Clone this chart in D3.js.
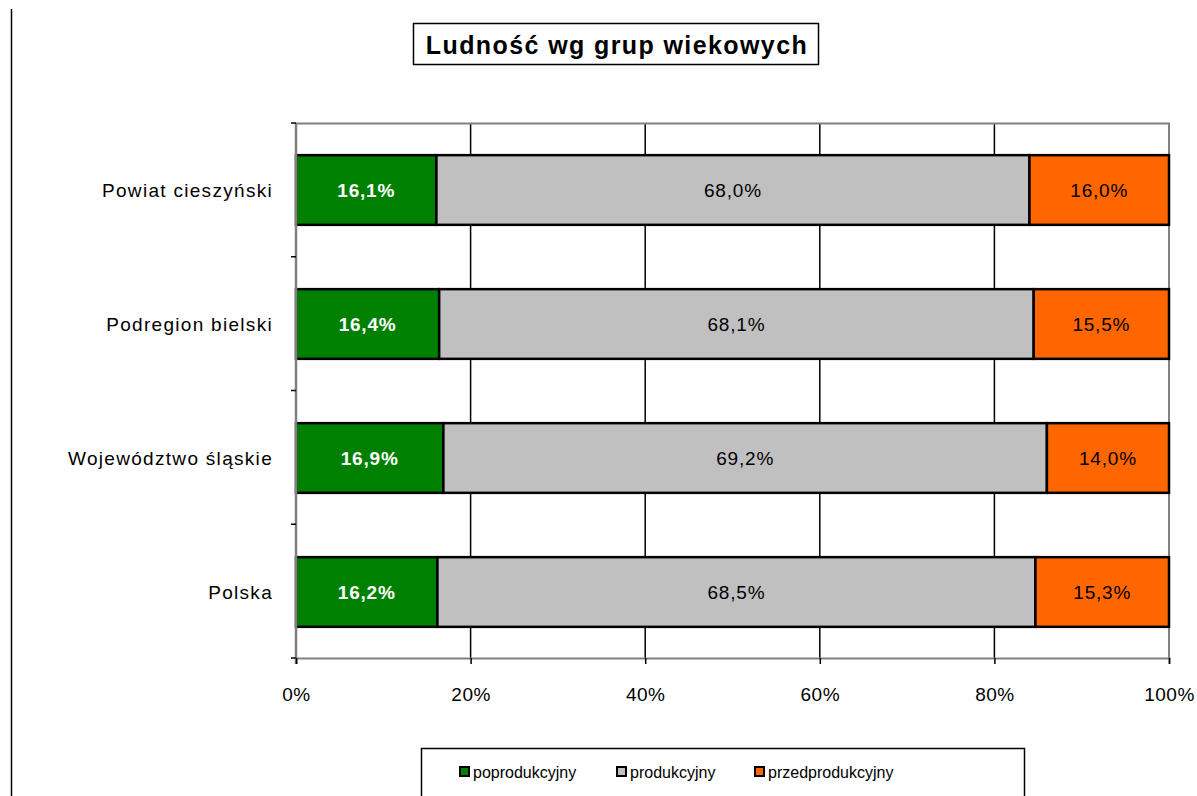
<!DOCTYPE html>
<html>
<head>
<meta charset="utf-8">
<script src="https://cdn.jsdelivr.net/npm/d3@7"></script>
<style>
  body { margin: 0; background: #fff; }
  svg { display: block; font-family: "Liberation Sans", Arial, sans-serif; }
</style>
</head>
<body>
<div id="chart"></div>
<script>
// --- Data ---
const categories = ["Powiat cieszyński", "Podregion bielski", "Województwo śląskie", "Polska"];
const seriesNames = ["poprodukcyjny", "produkcyjny", "przedprodukcyjny"];
const seriesColors = ["#008000", "#c0c0c0", "#ff6600"];
const labelColors = ["#ffffff", "#000000", "#000000"];
const poprodukcyjny = [16.1, 16.4, 16.9, 16.2];
const produkcyjny = [68.0, 68.1, 69.2, 68.5];
const przedprodukcyjny = [16.0, 15.5, 14.0, 15.3];
const xTicks = [0, 20, 40, 60, 80, 100];

const width = 1197;
const height = 796;
const margin = { top: 123, right: 28, bottom: 138, left: 296 };

const svg = d3
  .select("#chart")
  .append("svg")
  .attr("width", width)
  .attr("height", height);

// outer left edge line
svg.append("line")
  .attr("x1", 11.5).attr("x2", 11.5)
  .attr("y1", 9).attr("y2", height)
  .attr("stroke", "#000").attr("stroke-width", 1.5);

// --- Title ---
svg.append("rect")
  .attr("x", 413.5).attr("y", 23.5)
  .attr("width", 405).attr("height", 41)
  .attr("fill", "#fff").attr("stroke", "#000").attr("stroke-width", 1.5);
svg.append("text")
  .attr("x", 617).attr("y", 54)
  .attr("text-anchor", "middle")
  .attr("font-size", 25).attr("font-weight", "bold")
  .attr("letter-spacing", 1.4)
  .text("Ludność wg grup wiekowych");

// --- Scales ---
const x = d3.scaleLinear().domain([0, 100]).range([margin.left, 1169]);
const y = d3.scaleBand()
  .domain(categories)
  .range([margin.top, height - margin.bottom + 1])
  .paddingInner(0.48)
  .paddingOuter(0.24);

const plotTop = margin.top;
const plotBottom = height - margin.bottom;

// gridlines
svg.append("g")
  .selectAll("line")
  .data(xTicks.slice(1, -1))
  .join("line")
  .attr("x1", (d) => x(d)).attr("x2", (d) => x(d))
  .attr("y1", plotTop).attr("y2", plotBottom)
  .attr("stroke", "#000").attr("stroke-width", 1.5);

// plot border (top/right gray)
svg.append("path")
  .attr("d", `M${x(0)},${plotTop + 0.5}H${x(100)}V${plotBottom}`)
  .attr("fill", "none").attr("stroke", "#808080").attr("stroke-width", 2);

// --- Stacked bars ---
const table = categories.map((c, i) => ({
  cat: c,
  poprodukcyjny: poprodukcyjny[i],
  produkcyjny: produkcyjny[i],
  przedprodukcyjny: przedprodukcyjny[i],
}));
const stack = d3.stack().keys(seriesNames)(table);
// normalise to 100% since rounded shares do not always sum to 100
const totals = table.map((d) => d.poprodukcyjny + d.produkcyjny + d.przedprodukcyjny);

const layers = svg.append("g")
  .selectAll("g")
  .data(stack)
  .join("g");

layers.selectAll("rect")
  .data((s) => s.map((d, i) => ({ s, d, i })))
  .join("rect")
  .attr("x", (o) => x((o.d[0] / totals[o.i]) * 100))
  .attr("width", (o) => x((o.d[1] / totals[o.i]) * 100) - x((o.d[0] / totals[o.i]) * 100))
  .attr("y", (o) => y(o.d.data.cat))
  .attr("height", y.bandwidth())
  .attr("fill", (o) => seriesColors[seriesNames.indexOf(o.s.key)])
  .attr("stroke", "#000")
  .attr("stroke-width", 2.5);

layers.selectAll("text")
  .data((s) => s.map((d, i) => ({ s, d, i })))
  .join("text")
  .attr("x", (o) => x(((o.d[0] + o.d[1]) / 2 / totals[o.i]) * 100))
  .attr("y", (o) => y(o.d.data.cat) + y.bandwidth() / 2 + 7)
  .attr("text-anchor", "middle")
  .attr("font-size", 19)
  .attr("letter-spacing", 0.8)
  .attr("font-weight", (o) => (o.s.key === "poprodukcyjny" ? "bold" : "normal"))
  .attr("fill", (o) => labelColors[seriesNames.indexOf(o.s.key)])
  .text((o) => (o.d[1] - o.d[0]).toFixed(1).replace(".", ",") + "%");

// --- Axes ---
const catTicks = d3.range(categories.length + 1).map((i) => plotTop + i * (plotBottom - plotTop) / categories.length);

const yAxis = svg.append("g");
yAxis.append("line")
  .attr("x1", x(0)).attr("x2", x(0))
  .attr("y1", plotTop).attr("y2", plotBottom + 6)
  .attr("stroke", "#808080").attr("stroke-width", 2.5);
yAxis.selectAll(".tick")
  .data(catTicks)
  .join("line")
  .attr("x1", x(0) - 5).attr("x2", x(0))
  .attr("y1", (d) => d).attr("y2", (d) => d)
  .attr("stroke", "#000").attr("stroke-width", 1.5);
yAxis.selectAll("text")
  .data(categories)
  .join("text")
  .attr("x", 273)
  .attr("y", (d) => y(d) + y.bandwidth() / 2 + 7)
  .attr("text-anchor", "end")
  .attr("font-size", 19)
  .attr("letter-spacing", 1.3)
  .text((d) => d);

const xAxis = svg.append("g")
  .attr("transform", `translate(0,${plotBottom})`)
  .call(d3.axisBottom(x).tickValues(xTicks).tickSize(6).tickFormat((d) => d + "%"));
xAxis.select(".domain").attr("stroke", "#808080").attr("stroke-width", 2);
xAxis.selectAll(".tick line").attr("stroke", "#000").attr("stroke-width", 1.5);
xAxis.selectAll(".tick text")
  .attr("y", 30)
  .attr("font-size", 19)
  .attr("letter-spacing", 0.5)
  .attr("font-family", "Liberation Sans, Arial, sans-serif")
  .attr("fill", "#000");

// --- Legend ---
svg.append("rect")
  .attr("x", 421.5).attr("y", 748.5)
  .attr("width", 603).attr("height", 60)
  .attr("fill", "#fff").attr("stroke", "#000").attr("stroke-width", 1.5);

const legendX = [460, 617, 755];
const legend = svg.append("g")
  .selectAll("g")
  .data(seriesNames)
  .join("g")
  .attr("transform", (d, i) => `translate(${legendX[i]},773)`);
legend.append("rect")
  .attr("x", 0).attr("y", -6)
  .attr("width", 9).attr("height", 9)
  .attr("fill", (d, i) => seriesColors[i])
  .attr("stroke", "#000").attr("stroke-width", 2);
legend.append("text")
  .attr("x", 13).attr("y", 5)
  .attr("font-size", 16)
  .text((d) => d);
</script>
</body>
</html>
